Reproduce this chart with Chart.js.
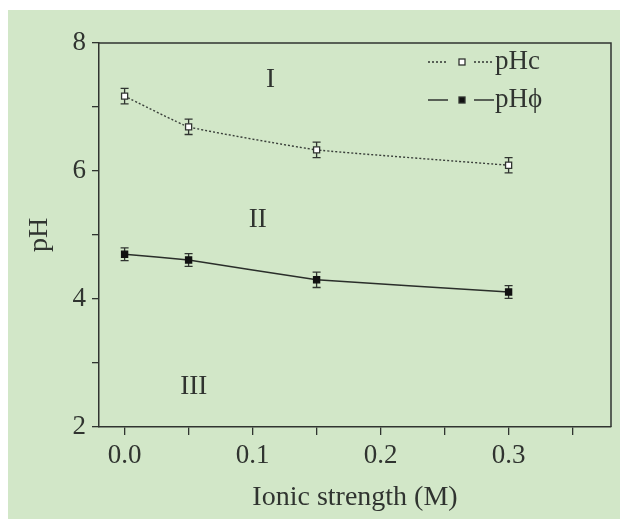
<!DOCTYPE html>
<html>
<head>
<meta charset="utf-8">
<script src="https://cdn.jsdelivr.net/npm/chart.js@4.4.1/dist/chart.umd.min.js"></script>
<style>
  body { margin: 0; background: #fff; }
  #chart { display: block; }
</style>
</head>
<body>
<canvas id="chart" width="620" height="519"></canvas>
<script>
// data
const ionic = [0, 0.05, 0.15, 0.3];
const pHc = [7.17, 6.69, 6.33, 6.09];
const pHcErr = [0.12, 0.12, 0.12, 0.12];
const pHphi = [4.70, 4.61, 4.30, 4.11];
const pHphiErr = [0.10, 0.10, 0.12, 0.10];

const xTicks = [0, 0.05, 0.1, 0.15, 0.2, 0.25, 0.3, 0.35];
const xTickLabels = ["0.0", "", "0.1", "", "0.2", "", "0.3", ""];
const yTicks = [2, 3, 4, 5, 6, 7, 8];
const yTickLabels = ["2", "", "4", "", "6", "", "8"];

const regionNames = ["I", "II", "III"];
const regionX = [0.114, 0.104, 0.054];
const regionY = [7.42, 5.23, 2.63];

const ink = "#303430";
const serif = "'Liberation Serif', 'Times New Roman', serif";

const decor = {
  id: "decor",
  beforeDraw(chart) {
    const ctx = chart.ctx;
    ctx.save();
    ctx.fillStyle = "#fff";
    ctx.fillRect(0, 0, chart.width, chart.height);
    ctx.fillStyle = "#d2e7c8";
    ctx.fillRect(8, 10, chart.width - 8, chart.height - 10);
    ctx.restore();
  },
  beforeDatasetsDraw(chart) {
    const ctx = chart.ctx;
    const xs = chart.scales.x, ys = chart.scales.y;
    ctx.save();
    ctx.strokeStyle = ink;
    ctx.lineWidth = 1.3;
    [[pHc, pHcErr], [pHphi, pHphiErr]].forEach(([vals, errs]) => {
      vals.forEach((v, i) => {
        const px = xs.getPixelForValue(ionic[i]);
        const top = ys.getPixelForValue(v + errs[i]);
        const bot = ys.getPixelForValue(v - errs[i]);
        ctx.beginPath();
        ctx.moveTo(px, top); ctx.lineTo(px, bot);
        ctx.moveTo(px - 4, top); ctx.lineTo(px + 4, top);
        ctx.moveTo(px - 4, bot); ctx.lineTo(px + 4, bot);
        ctx.stroke();
      });
    });
    ctx.restore();
  },
  afterDraw(chart) {
    const ctx = chart.ctx;
    const a = chart.chartArea;
    const xs = chart.scales.x, ys = chart.scales.y;
    ctx.save();
    // top and right frame
    ctx.strokeStyle = ink;
    ctx.lineWidth = 1.5;
    ctx.beginPath();
    ctx.moveTo(a.left, a.top);
    ctx.lineTo(a.right, a.top);
    ctx.lineTo(a.right, a.bottom);
    ctx.stroke();

    // region labels
    ctx.fillStyle = ink;
    ctx.font = "27px " + serif;
    ctx.textAlign = "center";
    ctx.textBaseline = "middle";
    regionNames.forEach((t, i) => {
      ctx.fillText(t, xs.getPixelForValue(regionX[i]), ys.getPixelForValue(regionY[i]));
    });

    // legend
    const rows = [
      { y: 62, dash: [2, 2], fill: "#fff", text: "pHc" },
      { y: 100, dash: [], fill: "#111", text: "pHϕ" }
    ];
    ctx.font = "27px " + serif;
    rows.forEach(r => {
      ctx.setLineDash(r.dash);
      ctx.lineWidth = 1.3;
      ctx.beginPath();
      ctx.moveTo(428, r.y); ctx.lineTo(448, r.y);
      ctx.moveTo(474, r.y); ctx.lineTo(494, r.y);
      ctx.stroke();
      ctx.setLineDash([]);
      ctx.fillStyle = r.fill;
      ctx.fillRect(459, r.y - 3, 6, 6);
      ctx.strokeRect(459, r.y - 3, 6, 6);
      ctx.fillStyle = ink;
      ctx.textAlign = "left";
      ctx.fillText(r.text, 495, r.y);
    });
    ctx.restore();
  }
};

const ctx = document.getElementById("chart").getContext("2d");
const myChart = new Chart(ctx, {
  type: "line",
  data: {
    datasets: [
      {
        label: "pHc",
        data: ionic.map((x, i) => ({ x: x, y: pHc[i] })),
        borderColor: "#3a3f3a",
        borderWidth: 1.4,
        borderDash: [2, 2],
        tension: 0.1,
        pointStyle: "rect",
        pointRadius: 4.3,
        pointBackgroundColor: "#fff",
        pointBorderColor: ink,
        pointBorderWidth: 1.3
      },
      {
        label: "pHϕ",
        data: ionic.map((x, i) => ({ x: x, y: pHphi[i] })),
        borderColor: "#2a2e2a",
        borderWidth: 1.4,
        tension: 0.05,
        pointStyle: "rect",
        pointRadius: 4.3,
        pointBackgroundColor: "#111",
        pointBorderColor: "#111",
        pointBorderWidth: 1.3
      }
    ]
  },
  options: {
    responsive: false,
    animation: false,
    layout: { padding: { top: 43, right: 9, left: 0, bottom: 0 } },
    plugins: { legend: { display: false }, tooltip: { enabled: false } },
    scales: {
      x: {
        type: "linear",
        min: -0.02,
        max: 0.38,
        afterBuildTicks: s => { s.ticks = xTicks.map(v => ({ value: v })); },
        afterFit: s => { s.height = 92; },
        ticks: {
          autoSkip: false,
          maxRotation: 0,
          padding: 5,
          color: ink,
          font: { family: serif, size: 27 },
          callback: (v, i) => xTickLabels[i]
        },
        grid: { drawOnChartArea: false, tickLength: 8, color: ink, lineWidth: 1.3 },
        border: { display: true, color: ink, width: 1.5 },
        title: {
          display: true,
          text: "Ionic strength (M)",
          color: ink,
          font: { family: serif, size: 28 },
          padding: { top: 0, bottom: 5 }
        }
      },
      y: {
        min: 2,
        max: 8,
        afterBuildTicks: s => { s.ticks = yTicks.map(v => ({ value: v })); },
        afterFit: s => { s.width = 99; },
        ticks: {
          autoSkip: false,
          padding: 6,
          color: ink,
          font: { family: serif, size: 27 },
          callback: (v, i) => yTickLabels[i]
        },
        grid: { drawOnChartArea: false, tickLength: 7, color: ink, lineWidth: 1.3 },
        border: { display: true, color: ink, width: 1.5 },
        title: {
          display: true,
          text: "pH",
          color: ink,
          font: { family: serif, size: 28 },
          padding: { top: 23, bottom: 0 }
        }
      }
    }
  },
  plugins: [decor]
});
</script>
</body>
</html>
